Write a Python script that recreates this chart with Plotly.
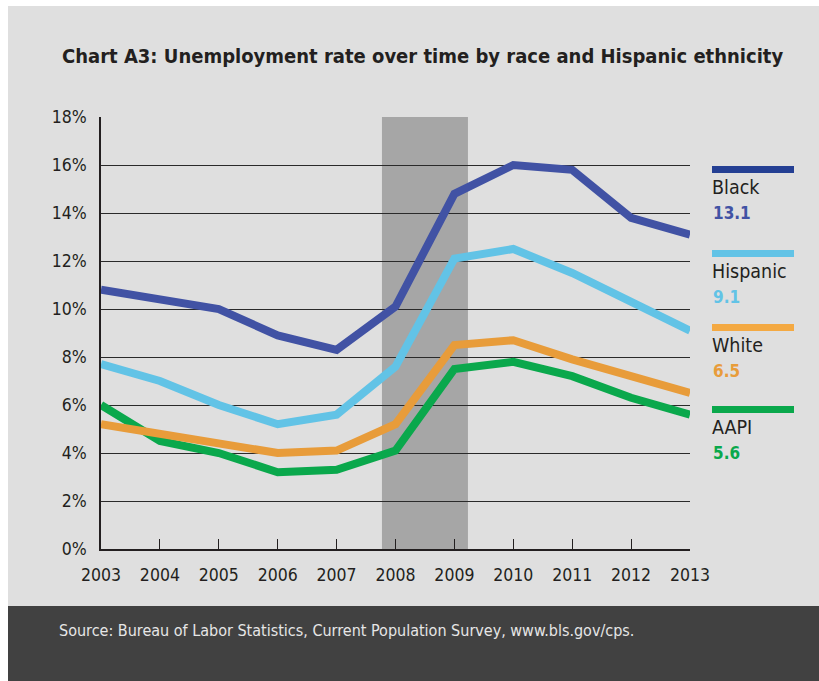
import plotly.graph_objects as go

# Annual unemployment rate (%) by race and Hispanic ethnicity
years = [2003, 2004, 2005, 2006, 2007, 2008, 2009, 2010, 2011, 2012, 2013]
black = [10.8, 10.4, 10.0, 8.9, 8.3, 10.1, 14.8, 16.0, 15.8, 13.8, 13.1]
hispanic = [7.7, 7.0, 6.0, 5.2, 5.6, 7.6, 12.1, 12.5, 11.5, 10.3, 9.1]
white = [5.2, 4.8, 4.4, 4.0, 4.1, 5.2, 8.5, 8.7, 7.9, 7.2, 6.5]
aapi = [6.0, 4.5, 4.0, 3.2, 3.3, 4.1, 7.5, 7.8, 7.2, 6.3, 5.6]

y_ticks = [0, 2, 4, 6, 8, 10, 12, 14, 16, 18]
y_tick_labels = ["0%", "2%", "4%", "6%", "8%", "10%", "12%", "14%", "16%", "18%"]
x_tick_labels = [str(y) for y in years]

# recession band (Dec 2007 - Jun 2009)
recession_start, recession_end = 2007.77, 2009.23

series = [
    # name, values, line colour, legend bar colour, value text colour
    ("AAPI", aapi, "#0aa84c", "#0aa84c", "#0aa84c"),
    ("White", white, "#e89c3a", "#f4a942", "#e89c3a"),
    ("Hispanic", hispanic, "#62c3e6", "#62c3e6", "#62c3e6"),
    ("Black", black, "#4152a4", "#243f93", "#4152a4"),
]

W, H = 819, 681
L, R, T, B = 101, 690, 117, 549  # plot area in pixels


def xp(px):
    return (px - L) / (R - L)


def yp(py):
    return (B - py) / (B - T)


NARROW = "DejaVu Sans Condensed, Liberation Sans Narrow, sans-serif"

fig = go.Figure()
for name, vals, col, _, _ in series:
    fig.add_trace(go.Scatter(
        x=years, y=vals, mode="lines", name=name,
        line=dict(color=col, width=8), hoverinfo="x+y",
    ))

shapes = [
    # white strips at top and left, dark footer
    dict(type="rect", xref="paper", yref="paper", x0=xp(0), x1=xp(W), y0=yp(6), y1=yp(0),
         fillcolor="white", line_width=0, layer="below"),
    dict(type="rect", xref="paper", yref="paper", x0=xp(0), x1=xp(8), y0=yp(H), y1=yp(0),
         fillcolor="white", line_width=0, layer="below"),
    dict(type="rect", xref="paper", yref="paper", x0=xp(8), x1=xp(W), y0=yp(H), y1=yp(606),
         fillcolor="#414141", line_width=0, layer="below"),
    # recession shading
    dict(type="rect", xref="x", yref="y", x0=recession_start, x1=recession_end, y0=0, y1=18,
         fillcolor="#a6a6a6", line_width=0, layer="below"),
]

annotations = [
    dict(text="<b>Chart A3: Unemployment rate over time by race and Hispanic ethnicity</b>",
         xref="paper", yref="paper", x=xp(422), y=yp(56), xanchor="center", yanchor="middle",
         showarrow=False, font=dict(family=NARROW, size=20, color="#231f20")),
    dict(text="Source: Bureau of Labor Statistics, Current Population Survey, www.bls.gov/cps.",
         xref="paper", yref="paper", x=xp(57), y=yp(630), xanchor="left", yanchor="middle",
         showarrow=False, font=dict(family=NARROW, size=16, color="#e6e6e6")),
]

# right-hand legend: coloured bar, series name, latest value
legend_bar_y = {"Black": 169.5, "Hispanic": 253.5, "White": 327.5, "AAPI": 409.5}
for name, vals, col, bar_col, val_col in series:
    by = legend_bar_y[name]
    shapes.append(dict(type="rect", xref="paper", yref="paper", x0=xp(712), x1=xp(794),
                       y0=yp(by + 3.5), y1=yp(by - 3.5), fillcolor=bar_col, line_width=0))
    annotations.append(dict(text=name, xref="paper", yref="paper", x=xp(710), y=yp(by + 18),
                            xanchor="left", yanchor="middle", showarrow=False,
                            font=dict(family=NARROW, size=19.5, color="#231f20")))
    annotations.append(dict(text=f"<b>{vals[-1]:.1f}</b>", xref="paper", yref="paper",
                            x=xp(711), y=yp(by + 43), xanchor="left", yanchor="middle",
                            showarrow=False, font=dict(family=NARROW, size=17, color=val_col)))

fig.update_layout(
    width=W, height=H, autosize=False,
    margin=dict(l=L, r=W - R, t=T, b=H - B, pad=0),
    paper_bgcolor="#dfdfdf", plot_bgcolor="rgba(0,0,0,0)",
    showlegend=False, shapes=shapes, annotations=annotations,
    xaxis=dict(
        range=[2003, 2013], tickmode="array", tickvals=years, ticktext=x_tick_labels,
        ticks="inside", ticklen=10, tickwidth=1, tickcolor="#231f20",
        showline=True, linecolor="#231f20", linewidth=1.5, showgrid=False, zeroline=False,
        tickfont=dict(family=NARROW, size=17.5, color="#231f20"), ticklabelstandoff=9,
    ),
    yaxis=dict(
        range=[0, 18], tickmode="array", tickvals=y_ticks, ticktext=y_tick_labels,
        ticks="", showline=True, linecolor="#231f20", linewidth=1.5,
        showgrid=True, gridcolor="#2a2a2a", gridwidth=1, zeroline=False,
        tickfont=dict(family=NARROW, size=17.5, color="#231f20"), ticklabelstandoff=9,
    ),
)

fig.write_html("out.html")
